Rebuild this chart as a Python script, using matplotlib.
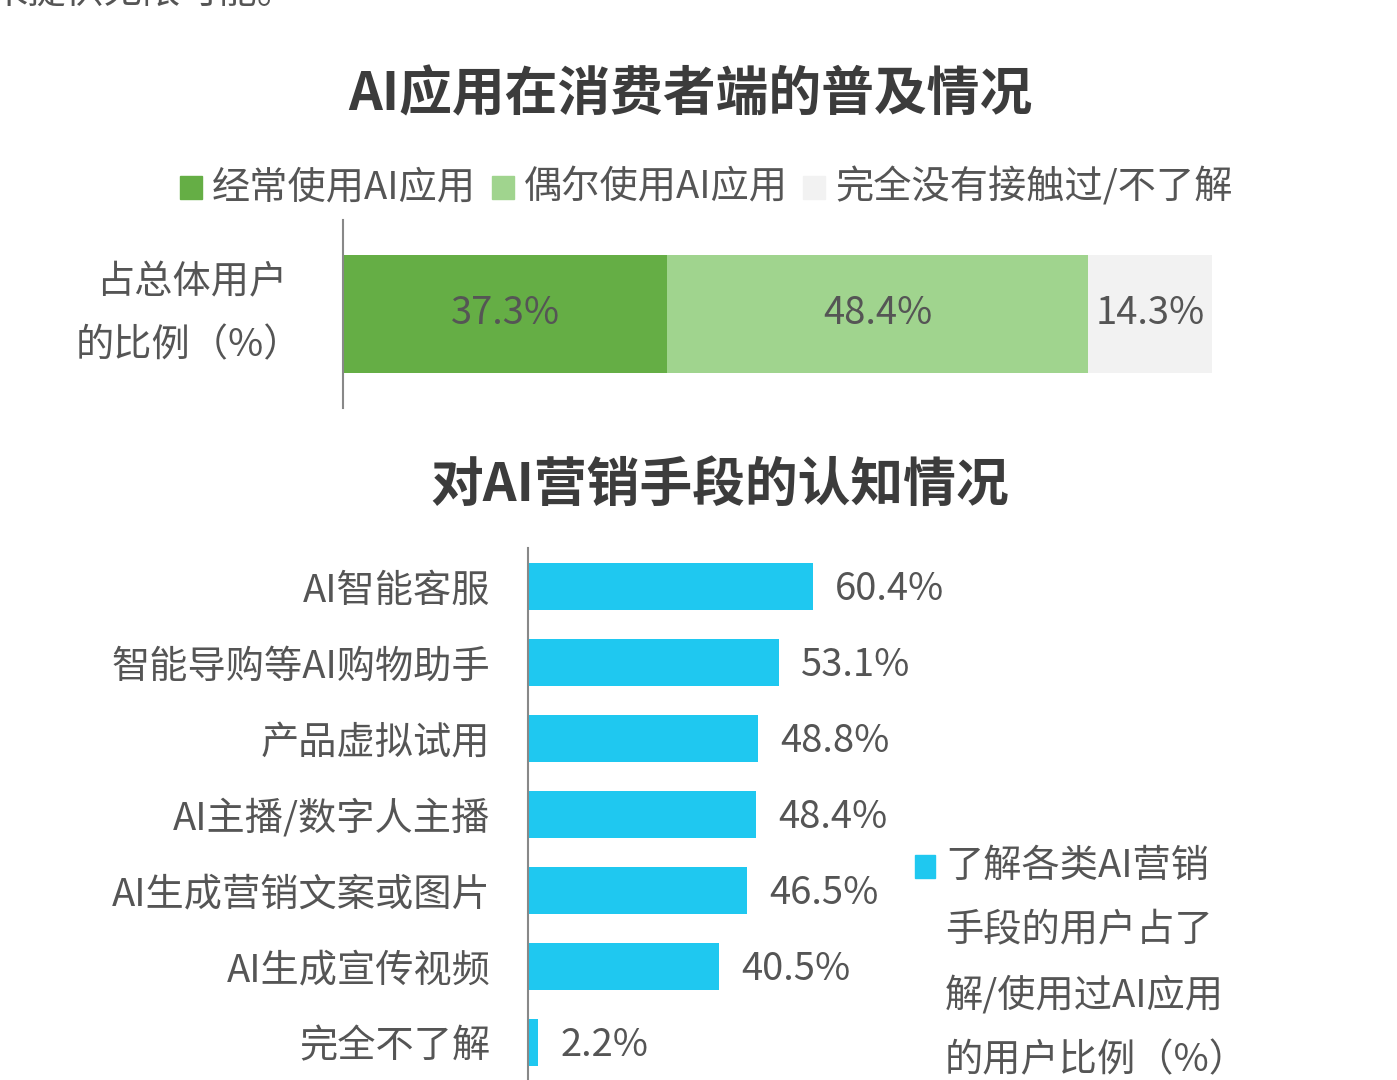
import matplotlib
matplotlib.use("Agg")
import matplotlib.pyplot as plt
import matplotlib.patches as mpatches

plt.rcParams["font.family"] = ["Noto Sans CJK SC", "DejaVu Sans"]

# ── 数据 ──
使用类别 = ["经常使用AI应用", "偶尔使用AI应用", "完全没有接触过/不了解"]
使用比例 = [37.3, 48.4, 14.3]
使用颜色 = ["#65AE45", "#A0D48E", "#F2F2F2"]

营销手段 = ["AI智能客服", "智能导购等AI购物助手", "产品虚拟试用", "AI主播/数字人主播",
            "AI生成营销文案或图片", "AI生成宣传视频", "完全不了解"]
认知比例 = [60.4, 53.1, 48.8, 48.4, 46.5, 40.5, 2.2]

灰字 = "#555555"
蓝色 = "#1FC8F0"
字号 = 27.5

W, H = 1397, 1080
fig = plt.figure(figsize=(W / 100, H / 100), dpi=100)


def fx(px):
    return px / W


def fy(py):
    return 1 - py / H


# 顶部被截断的正文（原图中只露出下半截）
fig.text(fx(-10), fy(12), "来提供无限可能。", fontsize=字号, color=灰字, ha="left", va="bottom")

# ══ 图一：普及情况 ══
fig.text(fx(690), fy(95), "AI应用在消费者端的普及情况", fontsize=38, fontweight="bold",
         color="#3C3C3C", ha="center", va="center")

ax1 = fig.add_axes([fx(343), fy(408), fx(1212) - fx(343), fy(220) - fy(408)])
左 = 0
for 名, 值, 色 in zip(使用类别, 使用比例, 使用颜色):
    ax1.barh(0, 值, left=左, height=118 / 188, color=色, edgecolor="none")
    ax1.text(左 + 值 / 2, 0, f"{值}%", fontsize=字号, color=灰字, ha="center", va="center")
    左 += 值
ax1.set_xlim(0, 100)
ax1.set_ylim(-0.5, 0.5)
for s in ["top", "right", "bottom"]:
    ax1.spines[s].set_visible(False)
ax1.spines["left"].set_color("#888888")
ax1.spines["left"].set_linewidth(1.5)
ax1.set_xticks([])
ax1.set_yticks([])
# 纵轴标签分两行写（全角括号自带右侧留白，第二行稍往右挪）
fig.text(fx(287), fy(283), "占总体用户", fontsize=字号, color=灰字, ha="right", va="center")
fig.text(fx(302), fy(346), "的比例（%）", fontsize=字号, color=灰字, ha="right", va="center")

# 图例
图例x = [180, 492, 803]
for x0, 名, 色 in zip(图例x, 使用类别, 使用颜色):
    fig.patches.append(mpatches.Rectangle((fx(x0), fy(199)), fx(22), fy(176) - fy(199),
                                          transform=fig.transFigure, color=色))
    fig.text(fx(x0 + 32), fy(188), 名, fontsize=字号, color=灰字, ha="left", va="center")

# ══ 图二：认知情况 ══
fig.text(fx(720), fy(485), "对AI营销手段的认知情况", fontsize=38, fontweight="bold",
         color="#3C3C3C", ha="center", va="center")

ax2 = fig.add_axes([fx(528), 0, fx(1000) - fx(528), fy(548)])
位置 = list(range(len(营销手段)))
ax2.barh(位置, 认知比例, height=0.62, color=蓝色, edgecolor="none")
for y, v in zip(位置, 认知比例):
    ax2.text(v + 4.7, y + 0.03, f"{v}%", fontsize=字号, color=灰字, ha="left", va="center")
ax2.set_xlim(0, 472 / 4.72)
ax2.set_ylim(6.49, -0.51)
for s in ["top", "right", "bottom"]:
    ax2.spines[s].set_visible(False)
ax2.spines["left"].set_color("#888888")
ax2.spines["left"].set_linewidth(1.5)
ax2.set_xticks([])
ax2.set_yticks(位置)
ax2.set_yticklabels(营销手段, fontsize=字号, color=灰字)
ax2.tick_params(axis="y", length=0, pad=27)

# 图例
fig.patches.append(mpatches.Rectangle((fx(915), fy(878)), fx(20), fy(855) - fy(878),
                                      transform=fig.transFigure, color=蓝色))
图例行 = ["了解各类AI营销", "手段的用户占了", "解/使用过AI应用", "的用户比例（%）"]
for i, 行 in enumerate(图例行):
    fig.text(fx(945), fy(866 + 65 * i), 行, fontsize=字号, color=灰字, ha="left", va="center")

fig.savefig("out.png", dpi=100, facecolor="white")
